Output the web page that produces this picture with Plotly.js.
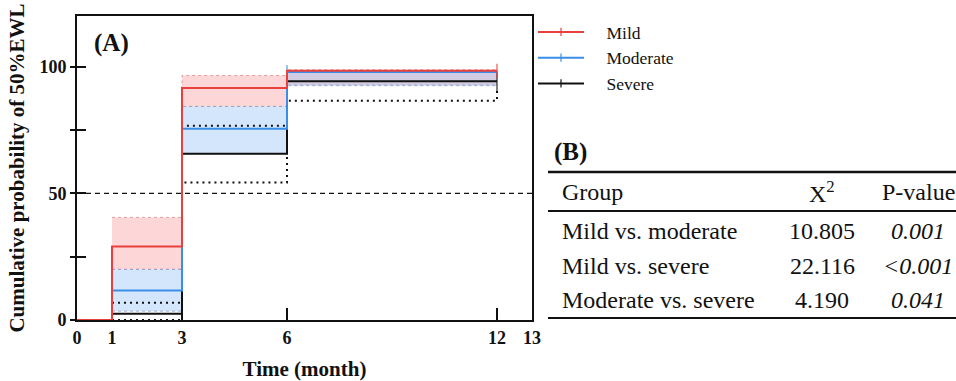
<!DOCTYPE html>
<html><head><meta charset="utf-8">
<script src="https://cdn.plot.ly/plotly-3.0.1.min.js"></script>
<style>html,body{margin:0;padding:0;background:#fff}#chart{width:956px;height:381px}</style>
</head><body><div id="chart"></div>
<script>
// ---- data ----
const stepTime = [0, 1, 3, 6, 12];
const mild     = [0, 29.0, 91.6, 98.4, 98.4];
const moderate = [0, 11.6, 75.5, 97.9, 97.9];
const severe   = [0, 2.5, 65.6, 94.2, 94.2];
const mildCensor     = [0, 0, 0, 0, 10];
const moderateCensor = [0, 0, 0, 10, 0];
const severeCensor   = [0, 0, 0, 0, 14];

const bandTime = [1, 3, 6, 12];
const mildLo = [20.0, 84.3, 92.8, 92.8];
const mildHi = [40.5, 96.5, 98.8, 98.8];
const modLo  = [3.5, 65.6, 92.5, 92.5];
const modHi  = [20.0, 84.3, 98.5, 98.5];
const sevLo  = [0, 54.3, 86.5, 91.7];
const sevHi  = [6.8, 76.7, 98.0, 98.0];

const groupNames = ['Mild', 'Moderate', 'Severe'];
const xTicks = [0, 1, 3, 6, 12, 13];
const yMajorStep = 50;
const yMinorStep = 25;
const refLine = 50;

const tblHeader = ['Group', 'X<sup>2</sup>', 'P-value'];
const tblGroup = ['Mild vs. moderate', 'Mild vs. severe', 'Moderate vs. severe'];
const tblChi = ['10.805', '22.116', '4.190'];
const tblP = ['0.001', '<0.001', '0.041'];

// ---- geometry helpers (pixel -> paper) ----
const L = 77, R = 532, T = 16, B = 320;
const px = x => (x - L) / (R - L);
const py = y => (B - y) / (B - T);

const SERIF = '"Liberation Serif", "Times New Roman", serif';
const RED = '#e8403f', BLUE = '#3b8ee8', BLACK = '#111111';
const COLORS = [RED, BLUE, BLACK];

function band(lo, hi, edge, fill) {
  return [
    {x: bandTime, y: lo, mode: 'lines', line: {shape: 'hv', color: edge, width: 1, dash: 'dot'},
     showlegend: false, hoverinfo: 'skip'},
    {x: bandTime, y: hi, mode: 'lines', line: {shape: 'hv', color: edge, width: 1, dash: 'dot'},
     fill: 'tonexty', fillcolor: fill, showlegend: false, hoverinfo: 'skip'}
  ];
}
function ci(vals) {
  return {x: bandTime, y: vals, mode: 'lines', line: {shape: 'hv', color: BLACK, width: 2, dash: '2px,4px'},
          showlegend: false, hoverinfo: 'skip'};
}
function step(vals, sizes, color) {
  return {x: stepTime, y: vals, mode: 'lines+markers', showlegend: false, hoverinfo: 'skip',
          line: {shape: 'hv', color: color, width: 2},
          marker: {symbol: 'line-ns', size: sizes, color: color, line: {width: 1.5, color: color}}};
}
function legendEntry(i) {
  return {x: [null], y: [null], name: '\u00a0\u00a0\u00a0\u00a0' + groupNames[i], mode: 'lines+markers',
          line: {color: COLORS[i], width: 2}, legendrank: i + 1,
          marker: {symbol: 'line-ns', size: 6, color: COLORS[i], line: {width: 1.2, color: COLORS[i]}}};
}

const traces = [
  ...band(mildLo, mildHi, 'rgba(215,140,140,0.8)', 'rgba(250,150,150,0.38)'),
  ...band(modLo, modHi, 'rgba(140,160,205,0.8)', 'rgba(140,190,245,0.38)'),
  ci(sevLo), ci(sevHi),
  step(severe, severeCensor, BLACK),
  step(moderate, moderateCensor, BLUE),
  step(mild, mildCensor, RED),
  legendEntry(0), legendEntry(1), legendEntry(2),
  {x: [null], y: [null], yaxis: 'y2', showlegend: false, hoverinfo: 'skip', mode: 'lines'}
];

const shapes = [
  {type: 'line', xref: 'paper', x0: 0, x1: 1, yref: 'y', y0: refLine, y1: refLine,
   line: {color: BLACK, width: 1.2, dash: '5px,4px'}, layer: 'below'}
];
const annotations = [
  {text: '<b>(A)</b>', xref: 'paper', yref: 'paper', x: px(92), y: py(43), xanchor: 'left', yanchor: 'middle',
   showarrow: false, font: {family: SERIF, size: 25, color: BLACK}},
  {text: '<b>(B)</b>', xref: 'paper', yref: 'paper', x: px(552), y: py(152), xanchor: 'left', yanchor: 'middle',
   showarrow: false, font: {family: SERIF, size: 25, color: BLACK}}
];
// table rules
[[172, 2.5], [211, 2], [318, 2]].forEach(([yy, w]) => shapes.push({
  type: 'line', xref: 'paper', yref: 'paper', x0: px(548), x1: px(956), y0: py(yy), y1: py(yy),
  line: {color: BLACK, width: w}}));
const colX = [px(560), px(822), px(918)];
const colAnchor = ['left', 'center', 'center'];
const rowY = [192, 231, 266, 300];
tblHeader.forEach((t, i) => annotations.push({text: t, xref: 'paper', yref: 'paper', x: colX[i], y: py(rowY[0]),
  xanchor: colAnchor[i], yanchor: 'middle', showarrow: false, font: {family: SERIF, size: 24, color: BLACK}}));
tblGroup.forEach((g, r) => {
  const cells = [g, tblChi[r], '<i>' + tblP[r].replace('<', '&lt;') + '</i>'];
  cells.forEach((t, i) => annotations.push({text: t, xref: 'paper', yref: 'paper', x: colX[i], y: py(rowY[r + 1]),
    xanchor: colAnchor[i], yanchor: 'middle', showarrow: false, font: {family: SERIF, size: 24, color: BLACK}}));
});

const layout = {
  width: 956, height: 381,
  margin: {l: L, r: 956 - R, t: T, b: 381 - B, pad: 0},
  paper_bgcolor: '#fff', plot_bgcolor: '#fff',
  font: {family: SERIF, color: BLACK},
  showlegend: true,
  legend: {x: px(533), y: py(14), xanchor: 'left', yanchor: 'top', bgcolor: 'rgba(0,0,0,0)',
           font: {family: SERIF, size: 17.5, color: BLACK}, itemwidth: 46,
           traceorder: 'normal', tracegroupgap: 0},
  xaxis: {range: [0, 13], tickvals: xTicks, ticks: 'inside', ticklen: 12, tickwidth: 2, tickcolor: BLACK,
          showline: true, linewidth: 2, linecolor: BLACK, mirror: true, showgrid: false, zeroline: false,
          layer: 'below traces', tickfont: {family: SERIF, size: 18, color: BLACK, weight: 'bold'},
          title: {text: '<b>Time (month)</b>', font: {family: SERIF, size: 21, color: BLACK}, standoff: 18}},
  yaxis: {range: [0, 120], tick0: 0, dtick: yMajorStep, ticks: 'outside', ticklen: 5, tickwidth: 2,
          tickcolor: BLACK, showline: true, linewidth: 2, linecolor: BLACK, mirror: true, showgrid: false,
          minor: {tick0: 0, dtick: yMinorStep, ticks: 'outside', ticklen: 5, tickwidth: 2, tickcolor: BLACK, showgrid: false},
          zeroline: false, layer: 'below traces', tickfont: {family: SERIF, size: 18, color: BLACK, weight: 'bold'},
          title: {text: '<b>Cumulative probability of 50%EWL</b>', font: {family: SERIF, size: 21, color: BLACK}}},
  yaxis2: {range: [0, 120], overlaying: 'y', side: 'left', tick0: 0, dtick: yMinorStep, ticks: 'inside', ticklen: 9,
           tickwidth: 2, tickcolor: BLACK, showticklabels: false, showline: false, showgrid: false,
           zeroline: false, layer: 'below traces'},
  shapes: shapes, annotations: annotations
};
Plotly.newPlot('chart', traces, layout, {staticPlot: true});
</script></body></html>
